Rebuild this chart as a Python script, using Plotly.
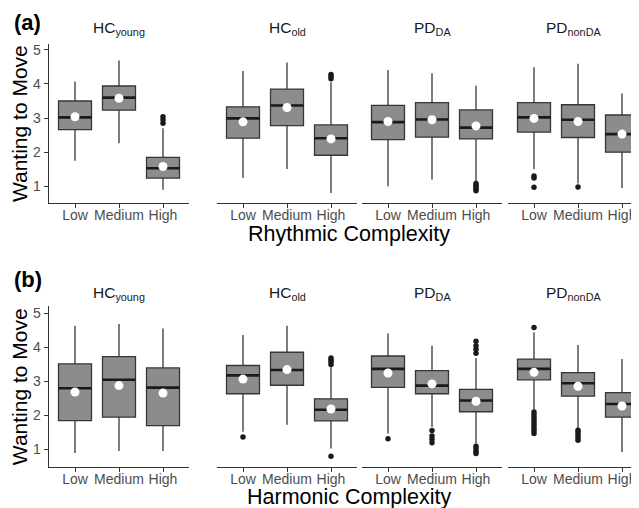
import plotly.graph_objects as go

# The page body has an 8px margin; lay out in window pixels and shift.
OFF = 8
WIN_W, WIN_H = 639, 508
W, H = WIN_W - OFF, WIN_H - OFF

groups = ["HC<sub>young</sub>", "HC<sub>old</sub>", "PD<sub>DA</sub>", "PD<sub>nonDA</sub>"]
levels = ["Low", "Medium", "High"]

# Row (a): Rhythmic complexity  -> per group: [Low, Medium, High]
rh_lower = [[1.75, 2.26, 0.90], [1.24, 1.51, 0.80], [1.00, 1.20, 1.15], [1.50, 1.08, 0.95]]
rh_q1 = [[2.66, 3.23, 1.24], [2.41, 2.78, 1.91], [2.37, 2.44, 2.39], [2.59, 2.43, 2.00]]
rh_median = [[3.02, 3.60, 1.53], [2.99, 3.37, 2.41], [2.88, 2.96, 2.72], [3.02, 2.95, 2.53]]
rh_q3 = [[3.50, 3.94, 1.85], [3.33, 3.85, 2.80], [3.37, 3.45, 3.24], [3.45, 3.39, 3.09]]
rh_upper = [[4.07, 4.69, 2.70], [4.38, 4.63, 4.05], [4.41, 4.31, 3.95], [4.49, 4.59, 3.72]]
rh_mean = [[3.04, 3.58, 1.58], [2.89, 3.31, 2.39], [2.90, 2.95, 2.77], [2.99, 2.90, 2.53]]
rh_outliers = [
    [[], [], [2.85, 2.95, 3.04]],
    [[], [], [4.15, 4.22, 4.28]],
    [[], [], [0.87, 0.92, 0.97, 1.02, 1.08]],
    [[0.97, 1.24, 1.30], [0.98], []],
]

# Row (b): Harmonic complexity
ha_lower = [[0.90, 0.96, 0.96], [1.52, 1.73, 1.03], [1.47, 1.66, 1.18], [2.17, 1.61, 0.93]]
ha_q1 = [[1.85, 1.95, 1.70], [2.64, 2.89, 1.84], [2.83, 2.64, 2.11], [3.05, 2.57, 1.95]]
ha_median = [[2.80, 3.05, 2.82], [3.18, 3.34, 2.17], [3.37, 2.88, 2.44], [3.37, 2.95, 2.34]]
ha_q3 = [[3.52, 3.73, 3.40], [3.47, 3.86, 2.49], [3.75, 3.32, 2.77], [3.66, 3.26, 2.67]]
ha_upper = [[4.64, 4.69, 4.56], [4.37, 4.64, 3.42], [4.41, 4.05, 3.69], [4.44, 4.07, 3.66]]
ha_mean = [[2.69, 2.88, 2.66], [3.07, 3.35, 2.19], [3.25, 2.93, 2.42], [3.27, 2.86, 2.28]]
ha_outliers = [
    [[], [], []],
    [[1.37], [], [3.50, 3.57, 3.63, 3.69, 0.80]],
    [[1.32], [1.20, 1.30, 1.40, 1.56], [3.83, 3.95, 4.05, 4.18, 0.88, 0.95, 1.02, 1.10]],
    [[4.59, 1.47, 1.55, 1.62, 1.70, 1.78, 1.86, 1.94, 2.02, 2.10],
     [1.27, 1.35, 1.42, 1.50, 1.57], []],
]

y_ticks = [1, 2, 3, 4, 5]
row_labels = ["(a)", "(b)"]
x_titles = ["Rhythmic Complexity", "Harmonic Complexity"]
y_title = "Wanting to Move"

rows = [
    dict(lower=rh_lower, q1=rh_q1, med=rh_median, q3=rh_q3, upper=rh_upper, mean=rh_mean, out=rh_outliers),
    dict(lower=ha_lower, q1=ha_q1, med=ha_median, q3=ha_q3, upper=ha_upper, mean=ha_mean, out=ha_outliers),
]

FONT = "Liberation Sans, Arial, sans-serif"
FILL = "#8c8c8c"
EDGE = "#363636"
BOXW = 0.75


def px_x(v):
    return (v - OFF) / W


def px_y(v):
    return 1 - (v - OFF) / H


# layout geometry (window pixels)
panel_px = [(48.6, 189.4), (216.6, 357.4), (361.6, 502.4), (507.6, 639.0)]
x_ranges = [[0.4, 3.6], [0.4, 3.6], [0.4, 3.6], [0.4, 3.386]]
row_px = [(42.0, 202.0), (305.0, 467.3)]
y_ranges = [[0.504, 5.175], [0.473, 5.225]]
title_y = [27, 293]
label_y = [21, 279]
xtitle_y = [233, 497]

fig = go.Figure()
layout = dict()
annotations = []

for r, data in enumerate(rows):
    for g in range(4):
        idx = r * 4 + g + 1
        xa = "x" if idx == 1 else f"x{idx}"
        ya = "y" if idx == 1 else f"y{idx}"
        for k in range(3):
            xpos = k + 1
            fig.add_trace(go.Box(
                x=[xpos], q1=[data["q1"][g][k]], median=[data["med"][g][k]], q3=[data["q3"][g][k]],
                lowerfence=[data["lower"][g][k]], upperfence=[data["upper"][g][k]],
                width=BOXW, whiskerwidth=0, boxpoints=False,
                fillcolor=FILL, line=dict(color=EDGE, width=1.3),
                xaxis=xa, yaxis=ya, showlegend=False, hoverinfo="skip"))
            # thick median line
            fig.add_trace(go.Scatter(
                x=[xpos - BOXW / 2, xpos + BOXW / 2], y=[data["med"][g][k]] * 2,
                mode="lines", line=dict(color="#1a1a1a", width=2.6),
                xaxis=xa, yaxis=ya, showlegend=False, hoverinfo="skip"))
            outs = data["out"][g][k]
            if outs:
                fig.add_trace(go.Scatter(
                    x=[xpos] * len(outs), y=outs, mode="markers",
                    marker=dict(color="#1a1a1a", size=5.5),
                    xaxis=xa, yaxis=ya, showlegend=False, hoverinfo="skip"))
            fig.add_trace(go.Scatter(
                x=[xpos], y=[data["mean"][g][k]], mode="markers",
                marker=dict(color="white", size=9, line=dict(width=0)),
                xaxis=xa, yaxis=ya, showlegend=False, hoverinfo="skip"))

        x0, x1 = panel_px[g]
        y0, y1 = row_px[r]
        layout["xaxis" if idx == 1 else f"xaxis{idx}"] = dict(
            domain=[px_x(x0), min(1.0, px_x(x1))], range=x_ranges[g], anchor=ya,
            tickvals=[1, 2, 3], ticktext=levels, ticks="outside", ticklen=4,
            ticklabelstandoff=-5,
            tickcolor="#333333", showline=True, linecolor="#333333", linewidth=1,
            showgrid=False, zeroline=False,
            tickfont=dict(family=FONT, size=14, color="#4d4d4d"), fixedrange=True)
        show_y = (g == 0)
        layout["yaxis" if idx == 1 else f"yaxis{idx}"] = dict(
            domain=[px_y(y1), px_y(y0)], range=y_ranges[r], anchor=xa,
            tickvals=y_ticks, ticks="outside" if show_y else "", ticklen=4,
            tickcolor="#333333", showline=show_y, linecolor="#333333", linewidth=1,
            showticklabels=show_y, showgrid=False, zeroline=False,
            tickfont=dict(family=FONT, size=14, color="#4d4d4d"), fixedrange=True)

        # panel title
        annotations.append(dict(
            text=groups[g], x=px_x((x0 + x1) / 2), y=px_y(title_y[r]),
            xref="paper", yref="paper", showarrow=False, xanchor="center", yanchor="middle",
            font=dict(family=FONT, size=15.5, color="#1a1a1a")))

    # row label
    annotations.append(dict(
        text=f"<b>{row_labels[r]}</b>", x=px_x(12), y=px_y(label_y[r]),
        xref="paper", yref="paper", showarrow=False, xanchor="left", yanchor="middle",
        font=dict(family=FONT, size=22, color="black")))
    # y title
    annotations.append(dict(
        text=y_title, x=px_x(19.5), y=px_y((row_px[r][0] + row_px[r][1]) / 2),
        xref="paper", yref="paper", showarrow=False, textangle=-90,
        xanchor="center", yanchor="middle",
        font=dict(family=FONT, size=21, color="black")))
    # x title
    annotations.append(dict(
        text=x_titles[r], x=px_x(349), y=px_y(xtitle_y[r]),
        xref="paper", yref="paper", showarrow=False, xanchor="center", yanchor="middle",
        font=dict(family=FONT, size=21.5, color="black")))

fig.update_layout(
    width=W, height=H, margin=dict(l=0, r=0, t=0, b=0),
    paper_bgcolor="white", plot_bgcolor="white",
    annotations=annotations, **layout)

fig.write_html("out.html")
